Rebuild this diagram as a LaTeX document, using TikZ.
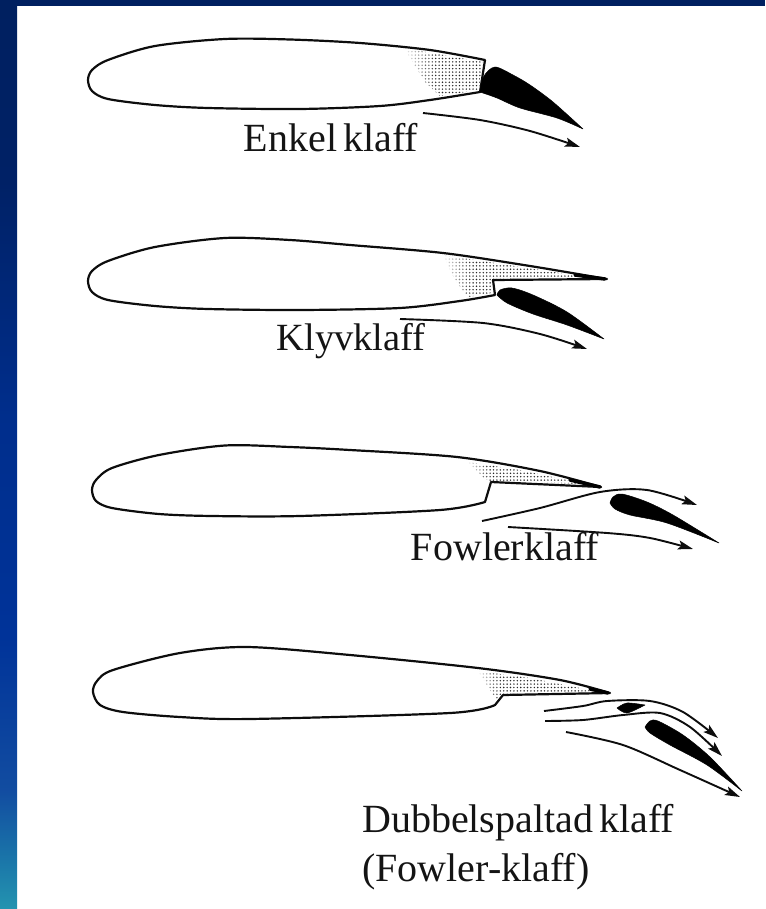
\documentclass[tikz,border=0pt]{standalone}
\usepackage{fontspec}
\setmainfont[WordSpace=0.6]{Liberation Serif}
\usetikzlibrary{patterns,fadings,arrows.meta}
\definecolor{barNavy}{RGB}{0,32,96}
%% stops sit between 25bp and 75bp: tikz fits the path to that band
\pgfdeclareverticalshading{barshade}{100bp}{
  rgb(0bp)=(0.14,0.58,0.69);
  rgb(25bp)=(0.14,0.58,0.69);
  rgb(28bp)=(0.10,0.45,0.66);
  rgb(31.5bp)=(0.07,0.30,0.63);
  rgb(40bp)=(0,0.20,0.60);
  rgb(52bp)=(0,0.18,0.55);
  rgb(65bp)=(0,0.13,0.40);
  rgb(75bp)=(0,0.125,0.376);
  rgb(100bp)=(0,0.125,0.376)}
\pgfdeclarepatternformonly{flapdots}{\pgfqpoint{-1pt}{-1pt}}{\pgfqpoint{3pt}{3pt}}{\pgfqpoint{3.4pt}{3.4pt}}{
  \pgfpathcircle{\pgfqpoint{0.5pt}{0.5pt}}{0.8pt}
  \pgfusepath{fill}}
\tikzset{
  foil/.style={line width=2.2pt, black!95, line join=round},
  flap/.style={fill=black, draw=black, line width=0.5pt, line join=round},
  flow/.style={line width=1.9pt, black!95, -{Stealth[length=15pt,width=9pt,inset=3pt]}},
  dotted area/.style={pattern=flapdots, pattern color=black!85},
  caption/.style={font=\fontsize{40}{44}\selectfont, text=black!92, inner sep=0pt, anchor=base}
}
\begin{document}
\begin{tikzpicture}[x=1pt,y=-1pt]
\useasboundingbox (0,0) rectangle (765,909);

%% Frame of the slide
\fill[barNavy] (0,0) rectangle (765,6);
\shade[shading=barshade] (0,0) rectangle (17,909);

%% Enkel klaff
\fill[dotted area] (404,48) -- (483,62) -- (479,90) -- (440,96) -- (425,82) -- cycle;
\fill[white, path fading=east] (402,46) rectangle (436,98);
\draw[foil] plot[smooth] coordinates {(485,60) (430,50) (360,43) (290,39.5) (225,39) (155,46) (108,60) (92,70) (88,80) (92,91) (108,99) (155,105) (208,108) (300,109) (380,106) (430,100) (480,92)} -- cycle;
\draw[flap] plot[smooth] coordinates {(480,92) (484,76) (495,67) (513,75) (530,85) (553,102) (583,129)} -- plot[smooth] coordinates {(583,129) (557,118) (520,108) (497,98) (480,92)} -- cycle;
\draw[flow] plot[smooth] coordinates {(423,113) (480,120) (530,131) (580,147)};
\node[caption] (enkel) at (331,152) {Enkel klaff};

%% Klyvklaff
\fill[dotted area] (443,255) -- (560,273) -- (590,278) -- (492,279) -- (491,293) -- (468,297) -- (455,280) -- cycle;
\fill[white, path fading=east] (441,252) rectangle (472,299);
\draw[foil] plot[smooth] coordinates {(607,279) (530,266) (443,253) (350,245) (290,240) (225,238) (155,247) (108,261) (92,271) (88,281) (92,292) (108,300) (155,306) (208,309) (300,310) (400,308) (460,301) (495,295)} -- (493,280) -- cycle;
\draw[line width=3.5pt, line cap=round] (575,275) -- (605,279);
\draw[flap] plot[smooth] coordinates {(497,295) (500,290) (512,288) (533,295) (567,312) (604,339)} -- plot[smooth] coordinates {(604,339) (567,325) (533,314) (507,303) (497,295)} -- cycle;
\draw[flow] plot[smooth] coordinates {(400,319) (483,323) (540,334) (587,349)};
\node[caption, font=\fontsize{38.5}{42}\selectfont] (klyv) at (351,350) {Klyvklaff};

%% Fowlerklaff
\fill[dotted area] (468,462) -- (520,470) -- (585,484) -- (491,481) -- (485,479) -- cycle;
\fill[white, path fading=east] (466,460) rectangle (490,483);
\draw[foil] plot[smooth] coordinates {(601,487) (540,471) (457,457) (350,450) (290,447) (225,445.5) (159,455) (112,468) (96,480) (92,490) (96,501) (112,508) (159,514) (212,516) (300,516) (440,510) (485,502)} -- (491,482) -- cycle;
\draw[line width=3.5pt, line cap=round] (570,480) -- (600,487);
\draw[flap] plot[smooth] coordinates {(610,503) (613,497) (622,494) (647,502) (673,515) (719,543)} -- plot[smooth] coordinates {(719,543) (667,523) (630,515) (615,509) (610,503)} -- cycle;
\draw[flow] plot[smooth] coordinates {(482,521) (540,508) (600,492) (647,490) (697,505)};
\draw[flow] plot[smooth] coordinates {(508,527) (607,533) (650,538) (693,549)};
\node[caption] (fowler) at (505,560) {Fowlerklaff};

%% Dubbelspaltad klaff
\fill[dotted area] (478,671) -- (530,678) -- (595,691) -- (503,694) -- (497,700) -- (490,690) -- cycle;
\fill[white, path fading=east] (476,668) rectangle (500,700);
\draw[foil] plot[smooth] coordinates {(610,693) (560,680) (478,668) (350,655) (247,647) (180,653) (113,670) (97,681) (93,692) (100,705) (123,712) (180,717) (250,719) (450,713) (495,705)} -- (503,695) -- cycle;
\draw[line width=3.5pt, line cap=round] (590,689) -- (608,693);
\draw[flap] plot[smooth] coordinates {(617,708) (627,703) (645,705)} -- plot[smooth] coordinates {(645,705) (627,713) (617,708)} -- cycle;
\draw[flap] plot[smooth] coordinates {(645,727) (650,721) (658,721) (683,735) (710,757) (742,791)} -- plot[smooth] coordinates {(742,791) (707,765) (670,745) (650,733) (645,727)} -- cycle;
\draw[flow] plot[smooth] coordinates {(544,711) (583,706) (607,701) (650,701) (683,712) (718,738)};
\draw[flow] plot[smooth] coordinates {(545,721) (583,720) (623,715) (660,713) (690,727) (722,756)};
\draw[flow] plot[smooth] coordinates {(566,732) (623,745) (680,770) (740,797)};
\node[caption, anchor=base west] (dubbel) at (362,832) {Dubbelspaltad klaff};
\node[caption, anchor=base west] (fowlerb) at (362,881) {(Fowler-klaff)};

\end{tikzpicture}
\end{document}
